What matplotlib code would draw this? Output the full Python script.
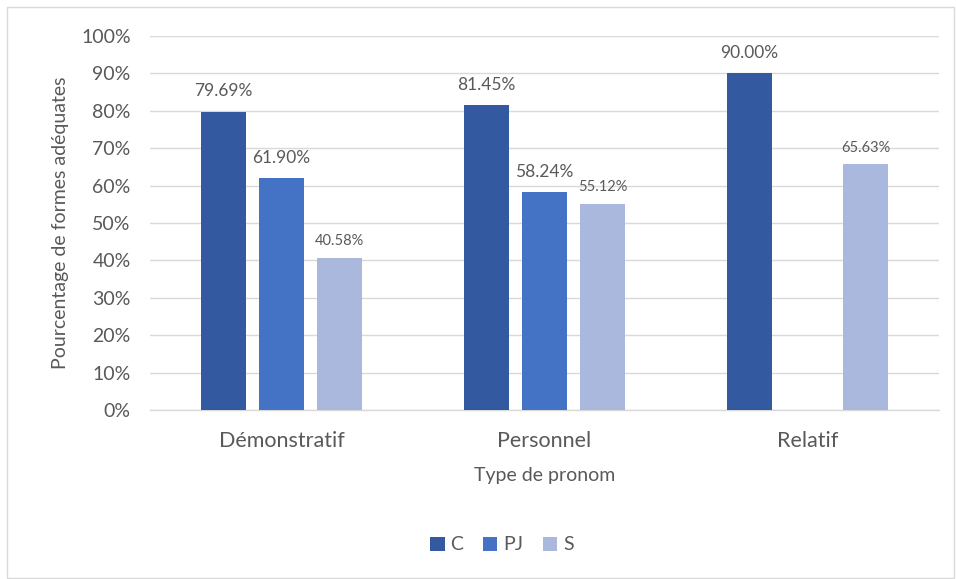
import matplotlib
matplotlib.use("Agg")
import matplotlib.pyplot as plt
import numpy as np
from matplotlib.patches import Rectangle
from matplotlib.ticker import PercentFormatter

plt.rcParams["font.family"] = ["Lato", "DejaVu Sans"]

# données
categories = ["Démonstratif", "Personnel", "Relatif"]
series = ["C", "PJ", "S"]
val_c = [79.69, 81.45, 90.00]
val_pj = [61.90, 58.24, None]
val_s = [40.58, 55.12, 65.63]

colors = ["#335AA0", "#4472C4", "#A9B8DC"]
text_col = "#595959"
grid_col = "#D9D9D9"

fig = plt.figure(figsize=(9.56, 5.79), dpi=100)
ax = fig.add_axes([0.157, 0.292, 0.825, 0.646])

# cadre extérieur
fig.patches.append(Rectangle((7 / 956, 1 / 579), 947 / 956, 571 / 579,
                             transform=fig.transFigure, fill=False,
                             edgecolor="#D9D9D9", linewidth=1))

x = np.arange(len(categories))
width = 0.172
offs = [-0.221, 0.0, 0.221]
label_sizes = [12.5, 12.5, 10.5]
label_offs = [9, 9, 7]

for vals, name, col, off, fs, lo in zip([val_c, val_pj, val_s], series, colors,
                                         offs, label_sizes, label_offs):
    xs = [xi + off for xi, v in zip(x, vals) if v is not None]
    vs = [v for v in vals if v is not None]
    bars = ax.bar(xs, vs, width, color=col, label=name, zorder=3)
    for b, v in zip(bars, vs):
        ax.annotate(f"{v:.2f}%", (b.get_x() + b.get_width() / 2, v),
                    xytext=(0, lo), textcoords="offset points",
                    ha="center", va="bottom", fontsize=fs, color=text_col)

ax.set_ylim(0, 100)
ax.set_xlim(-0.5, 2.5)
ax.set_yticks(np.arange(0, 101, 10))
ax.yaxis.set_major_formatter(PercentFormatter(decimals=0))
ax.set_xticks(x)
ax.set_xticklabels(categories)
ax.tick_params(axis="both", length=0, labelsize=14, labelcolor=text_col)
ax.tick_params(axis="x", pad=15, labelsize=15.5)
ax.tick_params(axis="y", pad=14)
ax.grid(axis="y", color=grid_col, linewidth=1, zorder=0)
for s in ["top", "right", "left"]:
    ax.spines[s].set_visible(False)
ax.spines["bottom"].set_color(grid_col)
ax.spines["bottom"].set_linewidth(1)

ax.set_ylabel("Pourcentage de formes adéquates", fontsize=14, color=text_col, labelpad=9)
ax.set_xlabel("Type de pronom", fontsize=14, color=text_col, labelpad=12)

ax.legend(loc="center", bbox_to_anchor=(502 / 956, 1 - 545 / 579),
          bbox_transform=fig.transFigure, ncol=3, frameon=False,
          fontsize=14, labelcolor=text_col, handlelength=0.75, handleheight=0.75,
          handletextpad=0.3, columnspacing=1.0)

fig.savefig("out.png", dpi=100)
